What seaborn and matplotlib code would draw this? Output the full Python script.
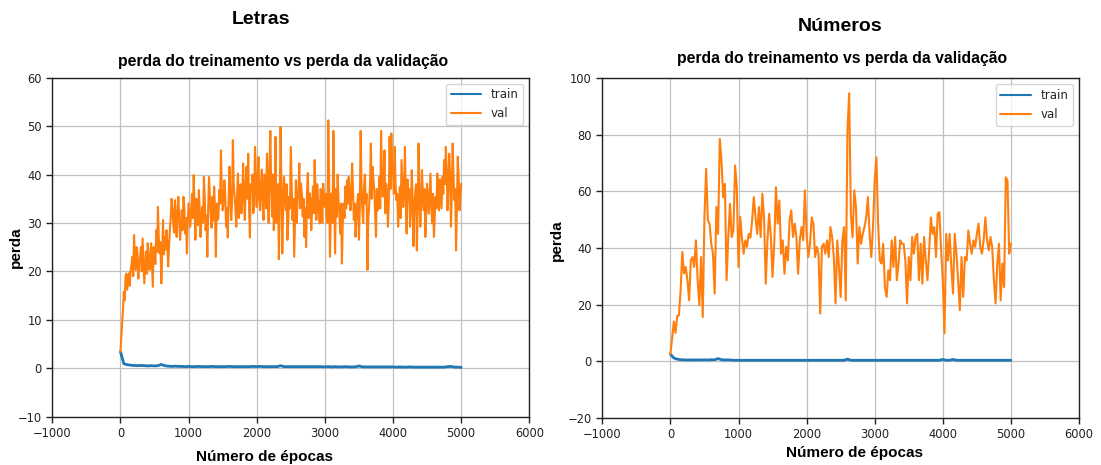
import numpy as np
import matplotlib
matplotlib.use("Agg")
import matplotlib.pyplot as plt
import seaborn as sns

# ---------------- data ----------------
letras_train = [3.4, 0.9, 0.7, 0.6, 0.55, 0.5, 0.55, 0.5, 0.45, 0.5,
                0.45, 0.5, 0.75, 0.5, 0.4, 0.35, 0.4, 0.35, 0.35, 0.3,
                0.35, 0.3, 0.3, 0.35, 0.3, 0.3, 0.3, 0.35, 0.3, 0.3,
                0.3, 0.3, 0.35, 0.3, 0.3, 0.3, 0.3, 0.3, 0.3, 0.35,
                0.3, 0.35, 0.3, 0.3, 0.3, 0.3, 0.3, 0.5, 0.3, 0.3,
                0.3, 0.3, 0.3, 0.3, 0.3, 0.3, 0.3, 0.3, 0.3, 0.3,
                0.25, 0.3, 0.25, 0.3, 0.25, 0.25, 0.3, 0.25, 0.25, 0.25,
                0.45, 0.25, 0.25, 0.25, 0.25, 0.25, 0.25, 0.25, 0.25, 0.25,
                0.25, 0.2, 0.25, 0.2, 0.2, 0.25, 0.2, 0.2, 0.2, 0.2,
                0.2, 0.2, 0.2, 0.2, 0.2, 0.2, 0.3, 0.35, 0.2, 0.2,
                0.15]

# validation loss every 25 epochs
letras_val = [3.4, 9.3, 15.8, 18.9, 16.2, 19.6, 20.3, 23.0, 27.5, 20.3,
              23.7, 21.6, 25.0, 26.8, 17.5, 24.1, 25.8, 20.3, 25.8, 16.8,
              23.7, 28.5, 33.3, 23.7, 17.5, 30.6, 27.1, 28.5, 21.0, 28.5,
              35.0, 29.9, 34.7, 27.1, 35.4, 26.5, 32.6, 35.4, 27.8, 23.7,
              34.0, 29.2, 36.0, 39.9, 26.5, 31.3, 36.8, 27.1, 33.3, 39.5,
              28.5, 23.0, 39.5, 31.3, 35.4, 37.5, 23.0, 30.6, 36.8, 45.0,
              32.6, 38.8, 29.2, 27.0, 41.6, 30.6, 47.1, 35.4, 29.2, 40.2,
              34.0, 32.0, 42.3, 30.6, 41.6, 44.3, 27.0, 36.8, 32.0, 45.7,
              33.3, 43.6, 32.6, 41.0, 30.6, 39.5, 44.3, 30.0, 49.0, 31.3,
              28.5, 47.8, 36.0, 22.5, 49.8,
              23.7, 39.5, 32.6, 26.5, 35.4, 45.7, 30.6, 23.0, 38.8, 34.7,
              42.3, 38.1, 31.3, 27.1, 25.0, 40.3, 36.1, 28.5, 37.5, 43.0,
              30.6, 34.7, 29.9, 35.4, 38.1, 33.3, 31.3, 51.2, 23.0, 36.1,
              49.0, 23.7, 31.3, 34.7, 27.8, 21.6, 34.0, 37.5, 38.8, 39.5,
              32.6, 42.3, 30.6, 27.1, 34.0, 26.5, 49.0, 32.6, 37.5, 34.0,
              20.3, 33.3, 46.4, 41.6, 36.8, 27.1, 32.6, 39.5, 49.0, 35.4,
              45.0, 38.1, 29.2, 47.8, 48.5, 40.2,
              45.7, 34.7, 29.2, 37.4, 43.0, 33.3, 45.7, 27.8, 34.7, 29.2,
              40.9, 25.2, 36.1, 24.3, 46.4, 29.2, 40.9, 32.6, 27.1, 38.1,
              31.9, 40.2, 29.9, 27.1, 35.4, 40.2, 32.6, 36.0, 39.5, 43.0,
              45.7, 32.6, 44.3, 29.2, 46.4, 34.7, 24.3, 43.7, 32.6, 38.1]

# validation loss at the epochs in between (12.5, 37.5, ...)
letras_val_mid = [6.5, 12, 14, 19.5, 18, 17, 21.5, 19, 22, 25,
                  18.5, 23, 20, 22, 21, 19.5, 23.5, 22, 21, 25,
                  21.5, 24, 27, 26, 24, 23.5, 24.5, 26, 25, 31,
                  33, 28, 31.5, 32, 31, 29, 28.5, 33, 31, 30,
                  31.5, 32.5, 31, 33, 35, 29.5, 33, 30.5, 30, 35,
                  31.5, 33, 35.5, 29, 30.5, 33, 34, 31, 34, 37,
                  34, 36, 33, 35, 36, 34, 38, 33, 36, 31,
                  38, 35, 36, 38, 35, 33, 38, 40, 34, 40,
                  37, 35, 38, 34, 40, 33, 36, 42, 37, 40,
                  33, 30, 38, 35,
                  38,
                  33, 36, 38, 30, 33, 38, 35, 31, 30, 37,
                  33, 36, 35, 33, 36, 31, 35, 33, 32, 36,
                  38, 32, 37, 30, 35, 36, 30, 38, 32, 30,
                  35, 37, 40, 32, 34, 30, 31, 33, 34, 37,
                  35, 37, 34, 31, 36, 33, 38, 30, 40, 36,
                  31, 38, 35, 39, 32, 37, 35, 33, 40, 38,
                  32, 36, 34, 37, 42,
                  36,
                  38, 36, 33, 31, 38, 37, 35, 39, 37, 33,
                  35, 33, 38, 33, 37, 34, 36, 37, 32, 35,
                  36, 33, 36, 31, 33, 36, 39, 33, 36, 38,
                  41, 38, 40, 36, 40, 37, 33, 40, 35]

numeros_train = [2.5, 1.1, 0.7, 0.5, 0.45, 0.4, 0.45, 0.4, 0.45, 0.4,
                 0.45, 0.4, 0.5, 0.45, 0.9, 0.5, 0.4, 0.45, 0.35, 0.3,
                 0.3, 0.3, 0.3, 0.3, 0.3, 0.3, 0.3, 0.3, 0.3, 0.3,
                 0.3, 0.3, 0.3, 0.3, 0.3, 0.3, 0.3, 0.3, 0.3, 0.3,
                 0.3, 0.3, 0.3, 0.3, 0.3, 0.3, 0.3, 0.3, 0.3, 0.3,
                 0.3, 0.3, 0.7, 0.3, 0.3, 0.3, 0.3, 0.3, 0.3, 0.3,
                 0.3, 0.3, 0.3, 0.3, 0.3, 0.3, 0.3, 0.3, 0.3, 0.3,
                 0.3, 0.3, 0.3, 0.3, 0.3, 0.3, 0.3, 0.3, 0.3, 0.3,
                 0.6, 0.3, 0.3, 0.6, 0.3, 0.3, 0.3, 0.3, 0.3, 0.3,
                 0.3, 0.3, 0.3, 0.3, 0.3, 0.3, 0.3, 0.3, 0.3, 0.3,
                 0.3]

numeros_val = [2.5, 8, 14, 10, 16, 16.2, 25, 38.6, 31, 33.3,
               28.6, 21.5, 35.6, 36.8, 33.3, 42.7, 28.6, 19.8, 36.8, 15.6,
               51, 68, 49.8, 48.6, 41.5, 38, 23.9, 54.5, 45, 78.6,
               71, 58, 62.7, 28.6, 43.9, 55.6, 43.9, 46.2, 69.2, 61.5,
               33.3, 51, 43.9, 38, 42.7, 40.4, 45, 43.6, 49.8, 58,
               50.8, 45, 54.5, 43.9, 59.2, 50.8, 27.4, 42.7, 52.1, 43.9,
               29.8, 41.5, 61.5, 48.6, 56.8, 38, 42.7, 30.9, 40.4, 35.6,
               49.8, 53.3, 43.9, 48.6, 43.9, 30.9, 42.7, 47.4, 42.7, 60.4,
               45, 36.8, 41.5, 50.8, 48.6, 36.8, 40.4, 38, 16.8, 40.4,
               41.5, 38, 42.7, 36.8, 47.4, 43.9, 36.8, 20.4, 42.7, 33.3,
               22.7, 42.7, 47.4, 21.5, 81.5, 94.7, 52, 43.8, 60.4, 54.5,
               34.5, 47.4, 41.5, 45, 47.4, 50.8, 58, 45, 36.8, 47.4,
               63.9, 72.1, 48.6, 35.6, 34.5, 41.5, 26.2, 22.7, 32.1, 28.6,
               42.7, 33.3, 43.9, 28.6, 34.5, 42.7, 41.5, 41.5, 35.6, 20.4,
               36.8, 28.6, 43.9, 38, 43.9, 45, 28.6, 41.5, 27.4, 43.9,
               35.6, 28.6, 39.2, 50.8, 45, 47.4, 36.8, 52.1, 52.7, 39.2,
               28.6, 9.8, 45, 35.6, 45, 33.3, 23.9, 45, 38, 28.6,
               18, 36.8, 22.7, 36.8, 35.6, 46.2, 41.5, 38, 42.7, 40.4,
               45, 48.6, 40.4, 38, 42.7, 50.8, 42.7, 39.2, 43.9, 40.4,
               28.6, 20.4, 34.5, 41.5, 21.5, 34.5, 26.2, 65, 63.9, 38,
               41.5]

main_titles = ["Letras", "Números"]
subtitle = "perda do treinamento vs perda da validação"
x_label = "Número de épocas"
y_label = "perda"
series_names = ["train", "val"]
x_ticks = [-1000, 0, 1000, 2000, 3000, 4000, 5000, 6000]
y_ticks_letras = [-10, 0, 10, 20, 30, 40, 50, 60]
y_ticks_numeros = [-20, 0, 20, 40, 60, 80, 100]

# merge the two letras validation samplings in epoch order
letras_val_all = [v for pair in zip(letras_val, letras_val_mid) for v in pair] + [letras_val[-1]]

# ---------------- style ----------------
sns.set_style("ticks", {"axes.grid": True, "grid.color": "#c0c0c0",
                        "axes.edgecolor": "#222222"})
plt.rcParams['font.family'] = ['DejaVu Sans']
plt.rcParams['grid.linewidth'] = 0.9
plt.rcParams['xtick.labelsize'] = 8.3
plt.rcParams['ytick.labelsize'] = 8.3
plt.rcParams['axes.linewidth'] = 1.0

BLUE = "#1f77b4"
ORANGE = "#ff7f0e"
W, H = 1101, 465
fig = plt.figure(figsize=(W / 100, H / 100), dpi=100)

def px_axes(x0, x1, ytop, ybot):
    return fig.add_axes([x0 / W, 1 - ybot / H, (x1 - x0) / W, (ybot - ytop) / H])

panels = [
    (px_axes(52.3, 529.3, 77.7, 416.5), letras_train, letras_val_all, (-10, 60), y_ticks_letras),
    (px_axes(602.3, 1079.0, 78.3, 417.7), numeros_train, numeros_val, (-20, 100), y_ticks_numeros),
]

for ax, tr, va, ylim, yt in panels:
    ep_tr = np.linspace(0, 5000, len(tr))
    ep_va = np.linspace(0, 5000, len(va))
    sns.lineplot(x=ep_tr, y=tr, ax=ax, color=BLUE, linewidth=2.0, label=series_names[0])
    sns.lineplot(x=ep_va, y=va, ax=ax, color=ORANGE, linewidth=1.5, label=series_names[1])
    ax.set_xlim(-1000, 6000)
    ax.set_ylim(*ylim)
    ax.set_xticks(x_ticks)
    ax.set_yticks(yt)
    ax.set_xlabel("")
    ax.set_ylabel("")
    for s in ax.spines.values():
        s.set_visible(True)
    ax.grid(True)
    ax.tick_params(length=4, width=1, colors="#222222")
    leg = ax.legend(loc="upper right", fontsize=8.5, frameon=True, fancybox=True,
                    framealpha=0.8, edgecolor="#cccccc", handlelength=2.6)
    for ln in leg.get_lines():
        ln.set_linewidth(1.5)

bold = dict(family=["Liberation Sans", "DejaVu Sans"], fontweight="bold", color="black")
fig.text(261 / W, 1 - 19.3 / H, main_titles[0], ha="center", va="center", fontsize=14, **bold)
fig.text(840 / W, 1 - 26.7 / H, main_titles[1], ha="center", va="center", fontsize=14, **bold)
fig.text(283 / W, 1 - 61.7 / H, subtitle, ha="center", va="center", fontsize=11.3, **bold)
fig.text(842 / W, 1 - 58.3 / H, subtitle, ha="center", va="center", fontsize=11.3, **bold)
fig.text(264 / W, 1 - 456.7 / H, x_label, ha="center", va="center", fontsize=11, **bold)
fig.text(854 / W, 1 - 453.3 / H, x_label, ha="center", va="center", fontsize=11, **bold)
fig.text(16 / W, 1 - 246.7 / H, y_label, ha="center", va="center", rotation=90, fontsize=11, **bold)
fig.text(557 / W, 1 - 240 / H, y_label, ha="center", va="center", rotation=90, fontsize=11, **bold)

fig.savefig("out.png", dpi=100)
